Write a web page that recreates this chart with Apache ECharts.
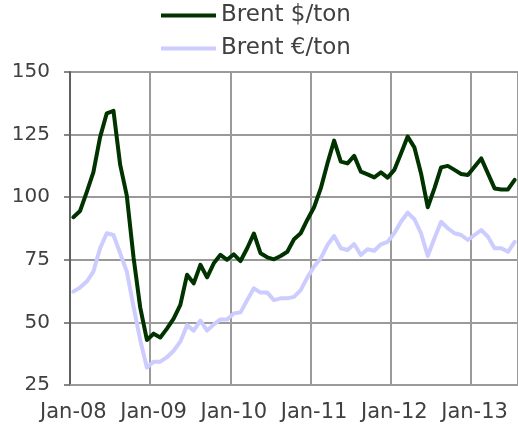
<!DOCTYPE html>
<html>
<head>
<meta charset="utf-8">
<script src="https://cdn.jsdelivr.net/npm/echarts@6/dist/echarts.min.js"></script>
<style>
  html, body { margin: 0; padding: 0; background: #fff; }
  #chart { width: 518px; height: 427px; }
</style>
</head>
<body>
<div id="chart"></div>
<script>
// Monthly Brent crude price, Jan 2008 – Jul 2013
const months = [
  'Jan-08','Feb-08','Mar-08','Apr-08','May-08','Jun-08','Jul-08','Aug-08','Sep-08','Oct-08','Nov-08','Dec-08',
  'Jan-09','Feb-09','Mar-09','Apr-09','May-09','Jun-09','Jul-09','Aug-09','Sep-09','Oct-09','Nov-09','Dec-09',
  'Jan-10','Feb-10','Mar-10','Apr-10','May-10','Jun-10','Jul-10','Aug-10','Sep-10','Oct-10','Nov-10','Dec-10',
  'Jan-11','Feb-11','Mar-11','Apr-11','May-11','Jun-11','Jul-11','Aug-11','Sep-11','Oct-11','Nov-11','Dec-11',
  'Jan-12','Feb-12','Mar-12','Apr-12','May-12','Jun-12','Jul-12','Aug-12','Sep-12','Oct-12','Nov-12','Dec-12',
  'Jan-13','Feb-13','Mar-13','Apr-13','May-13','Jun-13','Jul-13'
];

const brentUsd = [
  92.0, 94.5, 102, 110, 124, 133.5, 134.5, 113, 100.5, 76, 56, 43,
  45.5, 44, 47.5, 51.5, 57, 69, 65.6, 73, 68, 73.6, 77, 75,
  77.2, 74.5, 79.6, 85.5, 77.6, 76, 75.2, 76.5, 78.2, 83.2, 85.6, 91,
  96, 103.5, 113.5, 122.6, 114.2, 113.5, 116.5, 110.2, 109.1, 107.9, 109.9, 107.8,
  110.9, 117.5, 124.2, 119.9, 109.5, 96, 103.5, 111.9, 112.5, 110.9, 109.3, 108.9,
  112.2, 115.5, 109.5, 103.5, 103.1, 103.1, 106.9
];

const brentEur = [
  62.3, 63.9, 66.3, 70.3, 79.6, 85.6, 84.9, 77.6, 70.3, 56.3, 43, 32,
  34.3, 34.3, 36.1, 38.7, 42.3, 48.9, 46.7, 50.7, 46.7, 49.2, 51.2, 51.2,
  53.6, 54, 58.9, 63.6, 61.9, 61.9, 58.9, 59.6, 59.6, 60.2, 62.9, 68,
  72.3, 75.6, 80.9, 84.5, 79.6, 78.9, 81.3, 76.9, 79.2, 78.6, 81.2, 82.2,
  85.6, 90.2, 93.8, 91.2, 85.6, 76.5, 83.6, 90.2, 87.6, 85.6, 84.9, 82.9,
  84.9, 86.9, 84.2, 79.6, 79.6, 78.2, 82.2
];

const seriesNames = ['Brent $/ton', 'Brent €/ton'];
const yTicks = { min: 25, max: 150, step: 25 };

const FONT = '"DejaVu Sans", Verdana, sans-serif';
const TEXT = '#404040';
const GRID = '#9a9a9a';

const chart = echarts.init(document.getElementById('chart'), null, { renderer: 'canvas' });

chart.setOption({
  animation: false,
  backgroundColor: '#ffffff',
  legend: {
    orient: 'vertical',
    left: 161,
    top: 4,
    padding: 0,
    itemWidth: 55,
    itemHeight: 4,
    itemGap: 10,
    icon: 'rect',
    data: seriesNames,
    textStyle: { fontFamily: FONT, fontSize: 23, color: TEXT, lineHeight: 23, padding: [0, 0, 0, 0] }
  },
  grid: { left: 70, top: 72, right: 0, bottom: 42, containLabel: false },
  xAxis: {
    type: 'category',
    data: months,
    boundaryGap: true,
    axisLine: { lineStyle: { color: GRID, width: 2 } },
    axisTick: { show: false },
    axisLabel: {
      interval: 11,
      margin: 17,
      fontFamily: FONT,
      fontSize: 21,
      color: TEXT
    },
    splitLine: {
      show: true,
      interval: 11,
      lineStyle: { color: GRID, width: 2 }
    }
  },
  yAxis: {
    type: 'value',
    min: yTicks.min,
    max: yTicks.max,
    interval: yTicks.step,
    axisLine: { show: true, lineStyle: { color: '#606060', width: 2 } },
    axisTick: { show: true, inside: false, length: 6, lineStyle: { color: '#606060', width: 1.5 } },
    axisLabel: { margin: 20, fontFamily: FONT, fontSize: 20, color: TEXT },
    splitLine: { show: true, lineStyle: { color: GRID, width: 2 } }
  },
  series: [
    {
      name: seriesNames[1],
      type: 'line',
      data: brentEur,
      showSymbol: false,
      symbol: 'none',
      color: '#ccccff',
      lineStyle: { color: '#ccccff', width: 4, cap: 'round', join: 'round' },
      z: 2
    },
    {
      name: seriesNames[0],
      type: 'line',
      data: brentUsd,
      showSymbol: false,
      symbol: 'none',
      color: '#003300',
      lineStyle: { color: '#003300', width: 4, cap: 'round', join: 'round' },
      z: 3
    }
  ]
});
</script>
</body>
</html>
